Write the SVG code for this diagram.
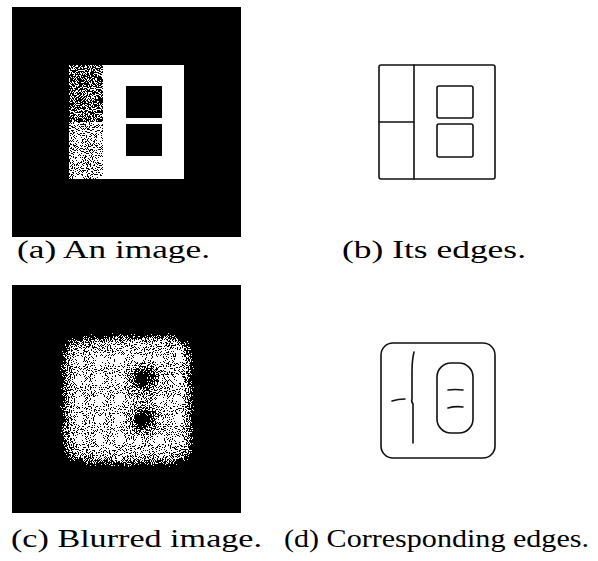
<svg xmlns="http://www.w3.org/2000/svg" width="598" height="561" viewBox="0 0 598 561">
<style>
.cap{font-family:"Liberation Serif","DejaVu Serif",serif;font-size:25px;fill:#000}
.edge{fill:none;stroke:#111;stroke-width:1.6;stroke-linecap:round;stroke-linejoin:round}
</style>
<defs>
<filter id="blurdither" filterUnits="userSpaceOnUse" x="12" y="285" width="229" height="228" color-interpolation-filters="sRGB">
<feGaussianBlur in="SourceGraphic" stdDeviation="10" result="b"/>
<feTurbulence type="fractalNoise" baseFrequency="0.95" numOctaves="1" seed="4" result="n"/>
<feColorMatrix in="n" type="matrix" values="2.5 0 0 0 -0.75  2.5 0 0 0 -0.75  2.5 0 0 0 -0.75  0 0 0 0 1" result="ng"/>
<feComposite in="b" in2="ng" operator="arithmetic" k1="2" k2="0.05" k3="0" k4="0" result="s"/>
<feComponentTransfer in="s">
<feFuncR type="discrete" tableValues="0 1"/>
<feFuncG type="discrete" tableValues="0 1"/>
<feFuncB type="discrete" tableValues="0 1"/>
<feFuncA type="linear" slope="0" intercept="1"/>
</feComponentTransfer>
</filter>
<filter id="dither" filterUnits="userSpaceOnUse" x="69" y="65" width="34" height="114" color-interpolation-filters="sRGB">
<feTurbulence type="fractalNoise" baseFrequency="0.95" numOctaves="1" seed="7" result="n"/>
<feColorMatrix in="n" type="matrix" values="1 0 0 0 0  1 0 0 0 0  1 0 0 0 0  0 0 0 0 1" result="ng"/>
<feComposite in="SourceGraphic" in2="ng" operator="arithmetic" k1="3" k2="-0.5" k3="0" k4="0" result="s"/>
<feComponentTransfer in="s">
<feFuncR type="discrete" tableValues="0 1"/>
<feFuncG type="discrete" tableValues="0 1"/>
<feFuncB type="discrete" tableValues="0 1"/>
<feFuncA type="linear" slope="0" intercept="1"/>
</feComponentTransfer>
</filter>
</defs>
<rect width="598" height="561" fill="#fff"/>
<g id="imageA">
<rect x="12" y="7" width="229" height="230" fill="#000"/>
<g filter="url(#dither)">
<rect x="69" y="65" width="34" height="57" fill="#747474"/>
<rect x="69" y="122" width="34" height="57" fill="#9a9a9a"/>
</g>
<rect x="103" y="65" width="81" height="114" fill="#fff"/>
<rect x="126" y="86" width="36" height="32" fill="#000"/>
<rect x="126" y="124" width="36" height="32" fill="#000"/>
</g>
<g id="edgesB">
<rect class="edge" x="379" y="65" width="116" height="114" rx="2"/>
<path class="edge" d="M414 65 V179 M379 122 H414"/>
<rect class="edge" x="437" y="86" width="36" height="32" rx="2"/>
<rect class="edge" x="437" y="124" width="36" height="33" rx="2"/>
</g>
<g id="imageC" filter="url(#blurdither)">
<rect x="12" y="285" width="229" height="228" fill="#000"/>
<rect x="66" y="340" width="40" height="120" fill="#d8d8d8"/>
<rect x="103" y="340" width="84" height="120" fill="#fff"/>
<rect x="128" y="364" width="32" height="28" fill="#000"/>
<rect x="128" y="406" width="32" height="28" fill="#000"/>
</g>
<g id="edgesD">
<rect class="edge" x="381" y="343" width="114" height="115" rx="12"/>
<rect class="edge" x="437" y="363" width="36" height="70" rx="14"/>
<path class="edge" d="M414 352 Q412 360 412 372 L412 399 Q411 401 413 404 L413 443"/>
<path class="edge" d="M392 401 Q398 399 405 399"/>
<path class="edge" d="M448 390 Q455 389 463 390 M448 408 Q455 406 463 407"/>
</g>
<g id="captions">
<text class="cap" x="17" y="258" textLength="193" lengthAdjust="spacingAndGlyphs">(a) An image.</text>
<text class="cap" x="342" y="258" textLength="184" lengthAdjust="spacingAndGlyphs">(b) Its edges.</text>
<text class="cap" x="11" y="547" textLength="251" lengthAdjust="spacingAndGlyphs">(c) Blurred image.</text>
<text class="cap" x="284" y="547" textLength="305" lengthAdjust="spacingAndGlyphs">(d) Corresponding edges.</text>
</g>
</svg>
